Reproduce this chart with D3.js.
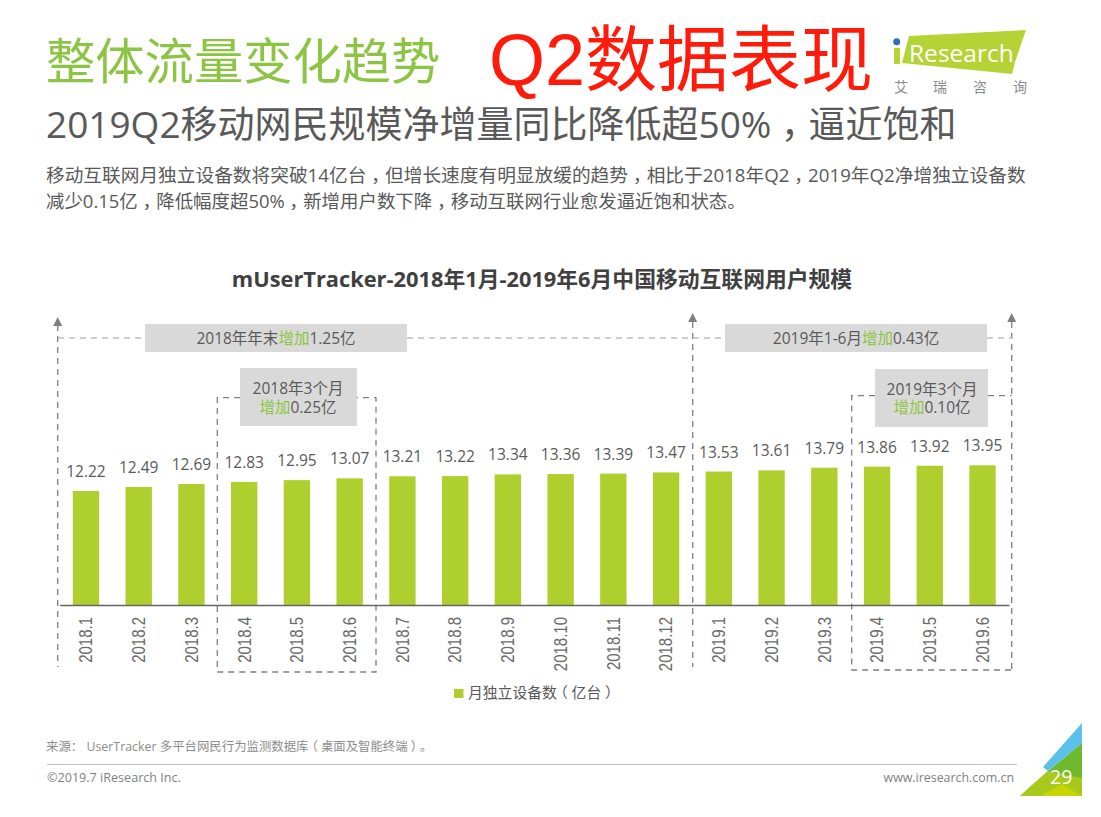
<!DOCTYPE html>
<html>
<head>
<meta charset="utf-8">
<script src="https://cdn.jsdelivr.net/npm/d3@7"></script>
<style>
  html, body { margin: 0; padding: 0; background: #fff; }
  text { font-family: "Open Sans", "Noto Sans CJK SC", sans-serif; }
</style>
</head>
<body>
<svg id="svg"></svg>
<script>
const width = 1101;
const height = 817;

// chart data
const months = ["2018.1", "2018.2", "2018.3", "2018.4", "2018.5", "2018.6", "2018.7", "2018.8", "2018.9",
    "2018.10", "2018.11", "2018.12", "2019.1", "2019.2", "2019.3", "2019.4", "2019.5", "2019.6"];
const devices = [12.22, 12.49, 12.69, 12.83, 12.95, 13.07, 13.21, 13.22, 13.34,
    13.36, 13.39, 13.47, 13.53, 13.61, 13.79, 13.86, 13.92, 13.95];

const grey = "#595959";
const green = "#aecf2e";
const noteGreen = "#8cc63f";

let svg = d3.select("#svg").attr("width", width).attr("height", height).style("display", "block");

// the bars do not start from zero in the original, the axis is cut
const xScale = d3.scaleBand().domain(months).range([59.6, 1008.9]).paddingInner(0.5).paddingOuter(0.25);
const yScale = d3.scaleLinear().domain([4.54, 13.95]).range([605, 465.3]);

function addText(x, y, str, size, color, anchor = "start", weight = "normal") {
    return svg.append("text")
        .attr("x", x)
        .attr("y", y)
        .attr("text-anchor", anchor)
        .style("font-size", size + "px")
        .style("font-weight", weight)
        .style("fill", color)
        .text(str);
}

// the original font centres full width punctuation in its cell,
// so use the half width form of the glyph with a quarter em on each side
function addPunctText(x, y, str, size, color) {
    const t = addText(x, y, "", size, color);
    let carry = 0;
    str.split(/([，（）])/).filter(s => s.length > 0).forEach(part => {
        const isPunct = "，（）".includes(part);
        const span = t.append("tspan").attr("dx", (carry + (isPunct ? 0.25 : 0)) + "em").text(part);
        if (isPunct) span.style("font-feature-settings", '"halt"');
        carry = isPunct ? 0.25 : 0;
    });
    return t;
}

// text with the word 增加 in green
function addNote(x, y, before, after) {
    const t = svg.append("text")
        .attr("x", x)
        .attr("y", y)
        .attr("text-anchor", "middle")
        .style("font-size", "15.5px")
        .style("fill", grey);
    t.append("tspan").text(before);
    t.append("tspan").style("fill", noteGreen).text("增加");
    t.append("tspan").text(after);
}

function dashed(points, color = "#7f7f7f", dash = "6,5") {
    svg.append("path")
        .attr("d", d3.line()(points))
        .attr("fill", "none")
        .attr("stroke", color)
        .attr("stroke-width", 1.3)
        .attr("stroke-dasharray", dash);
}

function arrowHead(x, y) {
    svg.append("path")
        .attr("d", d3.line()([[x - 4.5, y + 9], [x + 4.5, y + 9], [x, y]]) + "Z")
        .attr("fill", "#7f7f7f");
}

function polygon(points, color) {
    svg.append("path")
        .attr("d", d3.line()(points) + "Z")
        .attr("fill", color);
}

function drawHeader() {
    addText(46, 79, "整体流量变化趋势", 49.3, "#8cc544");
    addText(489, 85, "Q2数据表现", 72, "#ff1a0a").style("font-family", '"Liberation Sans", "Noto Sans CJK SC", sans-serif');
    addPunctText(46, 138, "2019Q2移动网民规模净增量同比降低超50%，逼近饱和", 37, grey);
    addPunctText(46, 182, "移动互联网月独立设备数将突破14亿台，但增长速度有明显放缓的趋势，相比于2018年Q2，2019年Q2净增独立设备数", 18.7, grey);
    addPunctText(46, 208, "减少0.15亿，降低幅度超50%，新增用户数下降，移动互联网行业愈发逼近饱和状态。", 18.45, grey);

    // logo
    polygon([[909, 36], [1026, 30], [1015, 62], [1012, 74], [902, 63]], "#b5d334");
    svg.append("rect").attr("x", 894).attr("y", 48).attr("width", 6).attr("height", 16).attr("fill", "#b5d334");
    svg.append("circle").attr("cx", 896.7).attr("cy", 41.7).attr("r", 3.5).attr("fill", "#2f6fb5");
    addText(909, 62, "Research", 24.5, "#fff");
    addText(894, 92, "艾", 14, "#8a8a8a");
    addText(933, 92, "瑞", 14, "#8a8a8a");
    addText(973, 92, "咨", 14, "#8a8a8a");
    addText(1013, 92, "询", 14, "#8a8a8a");
}

function drawChart() {
    addText(542, 287, "mUserTracker-2018年1月-2019年6月中国移动互联网用户规模", 21.8, "#404040", "middle", "bold");

    // dashed brackets
    dashed([[57.7, 325], [57.7, 667]]);
    dashed([[692.7, 322], [692.7, 667]]);
    dashed([[1011.7, 322], [1011.7, 670]]);
    dashed([[58, 338], [145, 338]], "#bfbfbf");
    dashed([[407, 338], [725, 338]], "#bfbfbf");
    dashed([[987, 338], [1012, 338]], "#bfbfbf");
    dashed([[240, 397.7], [217.3, 397.7], [217.3, 672], [376, 672], [376, 397.7], [357, 397.7]]);
    dashed([[875, 395.7], [851.7, 395.7], [851.7, 670], [1011.7, 670]]);
    dashed([[988, 395.7], [1011.7, 395.7]]);
    arrowHead(57.7, 317);
    arrowHead(692.7, 313);
    arrowHead(1011.7, 313);

    // note boxes
    svg.append("rect").attr("x", 145).attr("y", 324).attr("width", 262).attr("height", 28).attr("fill", "#d9d9d9");
    svg.append("rect").attr("x", 725).attr("y", 324).attr("width", 262).attr("height", 28).attr("fill", "#d9d9d9");
    svg.append("rect").attr("x", 240).attr("y", 368).attr("width", 117).attr("height", 58).attr("fill", "#d9d9d9");
    svg.append("rect").attr("x", 875).attr("y", 369).attr("width", 113).attr("height", 58).attr("fill", "#d9d9d9");
    addNote(276, 344, "2018年年末", "1.25亿");
    addNote(856, 344, "2019年1-6月", "0.43亿");
    addText(298, 394, "2018年3个月", 15.5, grey, "middle");
    addNote(298, 413, "", "0.25亿");
    addText(932, 395, "2019年3个月", 15.5, grey, "middle");
    addNote(932, 413, "", "0.10亿");

    // bars
    svg.selectAll(".bar")
        .data(months)
        .enter().append("rect")
        .attr("class", "bar")
        .attr("x", d => xScale(d))
        .attr("y", (d, i) => yScale(devices[i]))
        .attr("width", xScale.bandwidth())
        .attr("height", (d, i) => yScale(4.54) - yScale(devices[i]))
        .attr("fill", green);

    // value labels
    svg.selectAll(".value")
        .data(months)
        .enter().append("text")
        .attr("class", "value")
        .attr("x", d => xScale(d) + xScale.bandwidth() / 2)
        .attr("y", (d, i) => yScale(devices[i]) - 14)
        .attr("text-anchor", "middle")
        .style("font-size", "15.5px")
        .style("fill", grey)
        .text((d, i) => devices[i].toFixed(2));

    // x axis
    const xAxis = svg.append("g")
        .attr("transform", "translate(0,605)")
        .call(d3.axisBottom(xScale).tickSize(0));
    xAxis.select(".domain").attr("stroke", "#666").attr("stroke-width", 1.5);
    // labels in the original are stretched across their reading direction
    xAxis.selectAll("text")
        .attr("transform", "rotate(-90) scale(1,1.2)")
        .attr("x", -12)
        .attr("y", 0)
        .attr("dy", "0.35em")
        .attr("text-anchor", "end")
        .style("font-family", '"Liberation Sans", sans-serif')
        .style("font-size", "15px")
        .style("fill", "#6a6a6a");

    // legend
    svg.append("rect").attr("x", 454).attr("y", 689).attr("width", 9.5).attr("height", 9).attr("fill", green);
    addPunctText(468, 698, "月独立设备数（亿台）", 14.8, grey);
}

function drawFooter() {
    addPunctText(46, 751, "来源： UserTracker 多平台网民行为监测数据库（桌面及智能终端）。", 12.4, "#8c8c8c");
    svg.append("line").attr("x1", 47).attr("x2", 1017).attr("y1", 764.5).attr("y2", 764.5).attr("stroke", "#bfbfbf");
    addText(47, 782, "©2019.7 iResearch Inc.", 12.6, "#7f7f7f");
    addText(1014, 782, "www.iresearch.com.cn", 12.4, "#7f7f7f", "end");

    // corner decoration
    polygon([[1020, 796], [1048, 771], [1082, 743], [1082, 796]], "#6fb92c");
    polygon([[1020, 796], [1048, 771], [1082, 778], [1082, 796]], "#a6c91c");
    polygon([[1040, 796], [1062, 784], [1082, 796]], "#c8d400");
    polygon([[1043, 767], [1082, 723], [1082, 743], [1048, 771]], "#5bc0eb");
    addText(1050, 784, "29", 19.5, "#fff");
}

function initialise() {
    drawHeader();
    drawChart();
    drawFooter();
}

initialise();
</script>
</body>
</html>
